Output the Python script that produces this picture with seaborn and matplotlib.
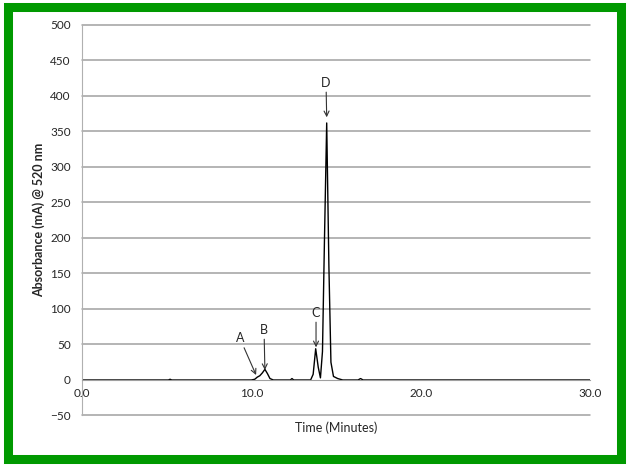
import numpy as np
import pandas as pd
import matplotlib.pyplot as plt
from matplotlib.patches import Rectangle
import seaborn as sns

# chromatogram trace (minutes, mA)
time_min = [0.0, 5.1, 5.2, 5.3, 10.0, 10.2, 10.35, 10.5, 10.65, 10.8, 10.95, 11.1, 11.3,
            12.3, 12.4, 12.5, 13.5, 13.65, 13.8, 13.95, 14.08, 14.2, 14.32, 14.45,
            14.58, 14.7, 14.85, 15.1, 15.4, 16.3, 16.45, 16.6, 30.0]
absorb = [0, 0, 1, 0, 0, 1, 4, 6, 10, 15, 9, 2, 0,
          0, 2, 0, 0, 8, 44, 18, 3, 40, 200, 362,
          160, 25, 5, 2, 0, 0, 2, 0, 0]

# peak labels: text position, arrow tip
peak_names = ['A', 'B', 'C', 'D']
label_xy = [(9.33, 50), (10.75, 62), (13.82, 86), (14.41, 410)]
tip_xy = [(10.28, 7), (10.8, 14), (13.82, 46), (14.45, 370)]

sns.set_style("white")
plt.rcParams['font.family'] = ['Lato', 'DejaVu Sans']

fig = plt.figure(figsize=(6.29, 4.66), dpi=100)
fig.patches.append(Rectangle((0.012, 0.016), 0.976, 0.968, transform=fig.transFigure,
                             fill=False, edgecolor='#009900', linewidth=6.5))
ax = fig.add_axes([0.1304, 0.1084, 0.8076, 0.838])

df = pd.DataFrame({'t': time_min, 'a': absorb})
sns.lineplot(data=df, x='t', y='a', color='black', lw=1.0, ax=ax)

ax.set_xlim(0, 30)
ax.set_ylim(-50, 500)
ax.set_yticks(np.arange(-50, 501, 50))
ax.set_xticks([0, 10, 20, 30])
ax.set_xticklabels(['0.0', '10.0', '20.0', '30.0'])
for yv in np.arange(-50, 501, 50):
    if yv != 0:
        ax.axhline(yv, color='#a0a0a0', lw=1.1, zorder=0, clip_on=False)

for s in ['top', 'right']:
    ax.spines[s].set_visible(False)
ax.spines['left'].set_color('#b0b0b0')
ax.spines['bottom'].set_position(('data', 0))
ax.spines['bottom'].set_color('#a0a0a0')
ax.tick_params(axis='y', length=5, color='#a0a0a0', labelsize=8.5, pad=3)
ax.tick_params(axis='x', length=0, labelsize=8.5, pad=6)

ax.set_xlabel('Time (Minutes)', fontsize=9)
ax.xaxis.set_label_coords(0.5, -0.015)
ax.set_ylabel('Absorbance (mA) @ 520 nm', fontsize=9, fontweight='bold')

for name, lxy, txy in zip(peak_names, label_xy, tip_xy):
    ax.annotate(name, xy=txy, xytext=lxy, ha='center', va='bottom', fontsize=9,
                arrowprops=dict(arrowstyle='->', color='#333333', lw=0.8,
                                shrinkA=0, shrinkB=0))

fig.savefig('out.png', dpi=100)
